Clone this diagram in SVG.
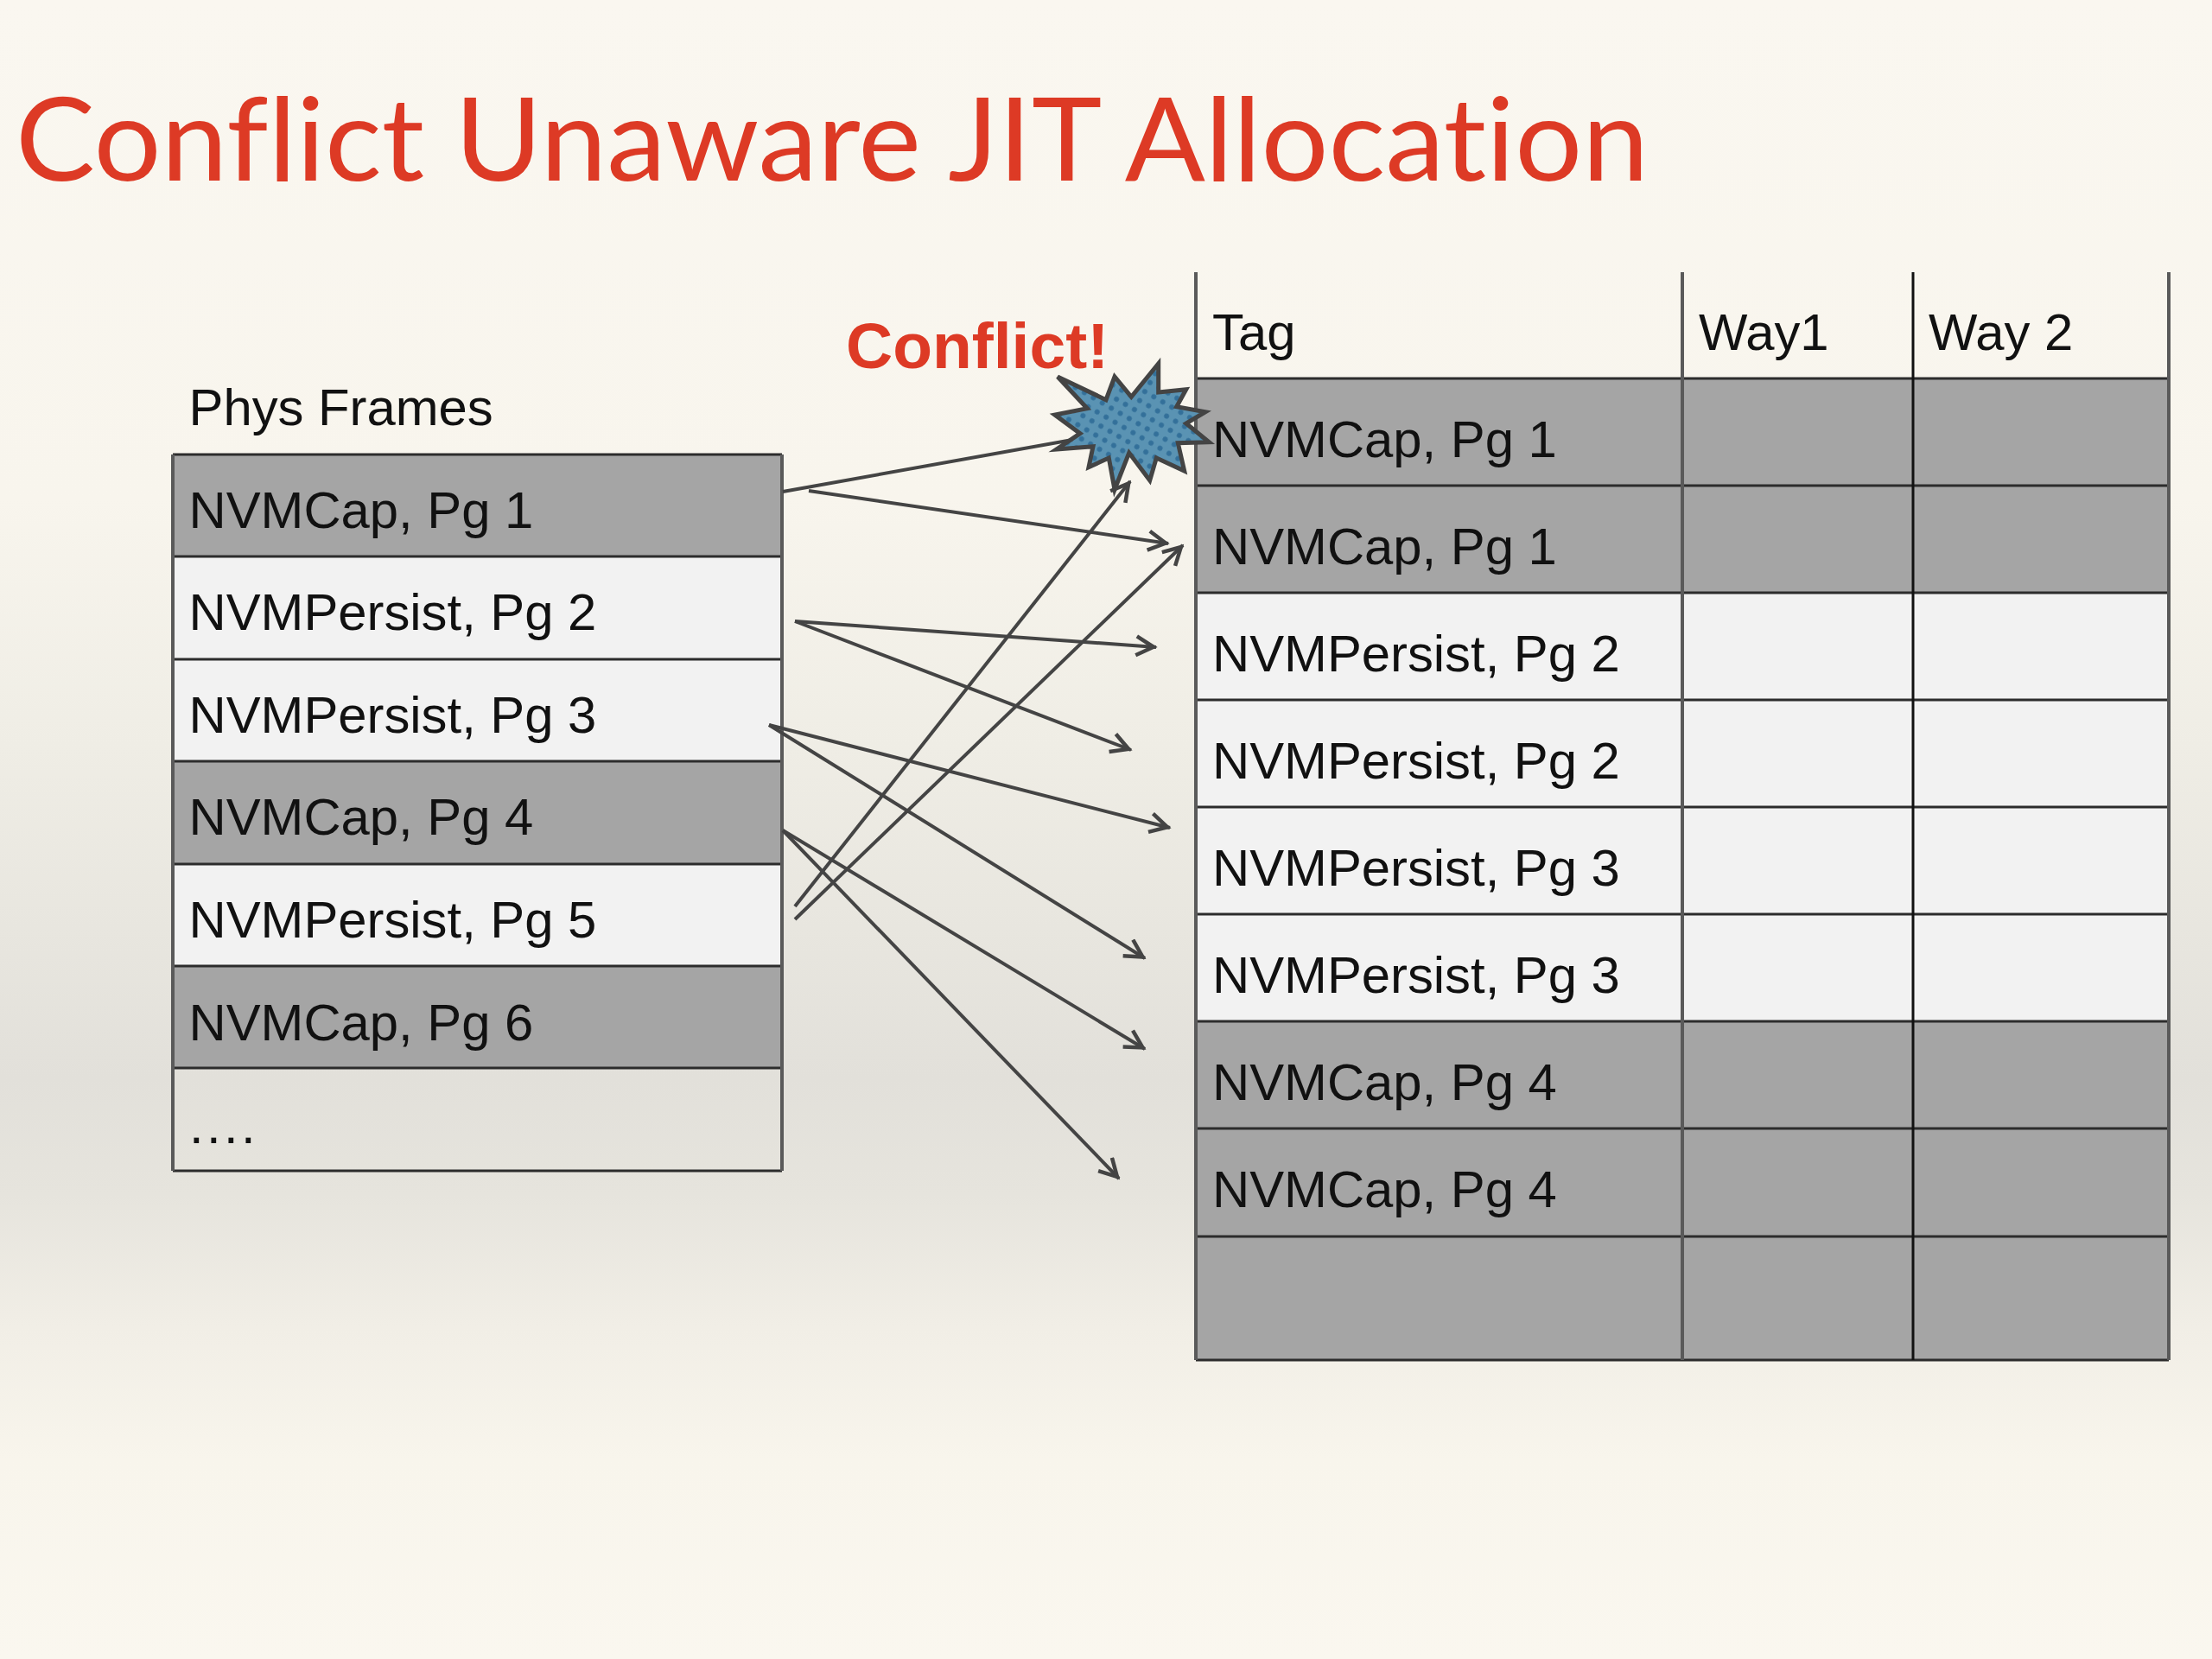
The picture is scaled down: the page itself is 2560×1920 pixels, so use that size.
<svg xmlns="http://www.w3.org/2000/svg" width="2560" height="1920" viewBox="0 0 2560 1920">
<style>
.t{font-family:"Liberation Sans",Arial,sans-serif;font-size:59.8px;fill:#111}
.title{font-family:Lato,"Open Sans",sans-serif;font-size:134px;fill:#dd3a25;font-variant-ligatures:none}
.conf{font-family:"Liberation Sans",Arial,sans-serif;font-size:75px;font-weight:bold;fill:#dd3a25}
.d{fill:#a5a5a5}.l{fill:#f2f2f2}
.h{stroke:#2c2c2c;stroke-width:3;fill:none}
.v{stroke:#5a5a5a;stroke-width:4;fill:none}
.k{stroke:#111;stroke-width:3;fill:none}
.c{stroke:#444;stroke-width:4;fill:none;marker-end:url(#arr)}
.c0{stroke:#444;stroke-width:4;fill:none}
</style>
<defs>
<linearGradient id="bg" x1="0" y1="0" x2="0" y2="1">
<stop offset="0" stop-color="#faf7f0"/><stop offset=".3" stop-color="#f8f5ed"/><stop offset=".45" stop-color="#efede5"/><stop offset=".56" stop-color="#e8e6df"/><stop offset=".65" stop-color="#e2e0da"/><stop offset=".72" stop-color="#e6e4dd"/><stop offset=".8" stop-color="#f1eee6"/><stop offset=".88" stop-color="#f8f5ec"/><stop offset="1" stop-color="#faf7ef"/>
</linearGradient>
<pattern id="dots" width="12" height="12" patternUnits="userSpaceOnUse" patternTransform="rotate(30)">
<rect width="12" height="12" fill="#5a93b3"/><circle cx="6" cy="6" r="3" fill="#33709a"/>
</pattern>
<marker id="arr" markerUnits="userSpaceOnUse" markerWidth="32" markerHeight="30" refX="26" refY="13" orient="auto">
<path d="M3 2 L23 13 L3 24" fill="none" stroke="#444" stroke-width="4.5"/>
</marker>
</defs>
<rect width="2560" height="1920" fill="url(#bg)"/>
<text id="title" class="title" x="18" y="209" textLength="1890" lengthAdjust="spacingAndGlyphs">Conflict Unaware JIT Allocation</text>
<text id="conflict-label" class="conf" x="979" y="426">Conflict!</text>
<text id="phys-label" class="t" x="218.5" y="492">Phys Frames</text>

<g id="phys-frames">
<g id="pf1"><rect class="d" x="200" y="526" width="705" height="118"/><text class="t" x="218.5" y="611">NVMCap, Pg 1</text></g>
<g id="pf2"><rect class="l" x="200" y="644" width="705" height="119"/><text class="t" x="218.5" y="729">NVMPersist, Pg 2</text></g>
<g id="pf3"><rect class="l" x="200" y="763" width="705" height="118"/><text class="t" x="218.5" y="848">NVMPersist, Pg 3</text></g>
<g id="pf4"><rect class="d" x="200" y="881" width="705" height="119"/><text class="t" x="218.5" y="966">NVMCap, Pg 4</text></g>
<g id="pf5"><rect class="l" x="200" y="1000" width="705" height="118"/><text class="t" x="218.5" y="1085">NVMPersist, Pg 5</text></g>
<g id="pf6"><rect class="d" x="200" y="1118" width="705" height="118"/><text class="t" x="218.5" y="1204">NVMCap, Pg 6</text></g>
<g id="pf7"><text class="t" x="219" y="1323" letter-spacing="3.4">....</text></g>
<path class="h" d="M200 526H905M200 644H905M200 763H905M200 881H905M200 1000H905M200 1118H905M200 1236H905M200 1355H905"/>
<path class="v" d="M200 526V1355M905 526V1355"/>
</g>

<g id="cache-table">
<g id="hdr"><text class="t" x="1403" y="405">Tag</text><text class="t" x="1966" y="405">Way1</text><text class="t" x="2232" y="405">Way 2</text></g>
<g id="r1"><rect class="d" x="1384" y="438" width="1126" height="124"/><text class="t" x="1403" y="529">NVMCap, Pg 1</text></g>
<g id="r2"><rect class="d" x="1384" y="562" width="1126" height="124"/><text class="t" x="1403" y="653">NVMCap, Pg 1</text></g>
<g id="r3"><rect class="l" x="1384" y="686" width="1126" height="124"/><text class="t" x="1403" y="777">NVMPersist, Pg 2</text></g>
<g id="r4"><rect class="l" x="1384" y="810" width="1126" height="124"/><text class="t" x="1403" y="901">NVMPersist, Pg 2</text></g>
<g id="r5"><rect class="l" x="1384" y="934" width="1126" height="124"/><text class="t" x="1403" y="1025">NVMPersist, Pg 3</text></g>
<g id="r6"><rect class="l" x="1384" y="1058" width="1126" height="124"/><text class="t" x="1403" y="1149">NVMPersist, Pg 3</text></g>
<g id="r7"><rect class="d" x="1384" y="1182" width="1126" height="124"/><text class="t" x="1403" y="1273">NVMCap, Pg 4</text></g>
<g id="r8"><rect class="d" x="1384" y="1306" width="1126" height="125"/><text class="t" x="1403" y="1397">NVMCap, Pg 4</text></g>
<g id="r9"><rect class="d" x="1384" y="1431" width="1126" height="143"/></g>
<path class="h" d="M1384 438H2510M1384 562H2510M1384 686H2510M1384 810H2510M1384 934H2510M1384 1058H2510M1384 1182H2510M1384 1306H2510M1384 1431H2510M1384 1574H2510"/>
<path class="v" d="M1384 315V1574M1947 315V1574M2510 315V1574"/>
<path class="k" d="M2214 315V1574"/>
</g>

<g id="conflict-star"><polygon points="1224,436 1280,462.7 1290,436 1309.3,459.3 1340.7,420.7 1340.7,454 1372.7,450.7 1361.7,470.7 1395,476.7 1372.7,490 1399.3,511.7 1363.3,512.7 1370.7,545 1338.3,530 1330.7,556 1306.7,524 1290,566.7 1283.3,530 1260,540.7 1265,516.7 1222.7,520 1250,501.7 1220.7,480 1258.3,472.7" fill="url(#dots)" stroke="#444" stroke-width="5" stroke-linejoin="miter"/></g>

<g id="connectors">
<line class="c0" x1="906" y1="569" x2="1241" y2="509"/>
<line class="c" x1="936" y1="568" x2="1352" y2="629"/>
<line class="c" x1="920" y1="719" x2="1338" y2="749"/>
<line class="c" x1="920" y1="719" x2="1309" y2="868"/>
<line class="c" x1="920" y1="1049" x2="1308" y2="557"/>
<line class="c" x1="920" y1="1064" x2="1369" y2="631"/>
<line class="c" x1="890" y1="839" x2="1354" y2="958"/>
<line class="c" x1="890" y1="839" x2="1325" y2="1109"/>
<line class="c" x1="906" y1="961" x2="1325" y2="1214"/>
<line class="c" x1="906" y1="961" x2="1295" y2="1364"/>
</g>
</svg>
